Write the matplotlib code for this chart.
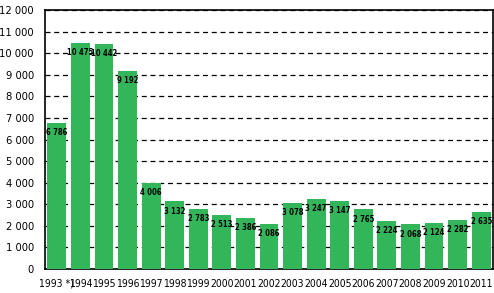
import matplotlib
matplotlib.use("Agg")
import matplotlib.pyplot as plt
from matplotlib.ticker import FuncFormatter

years = ["1993 *)", "1994", "1995", "1996", "1997", "1998", "1999", "2000", "2001", "2002",
         "2003", "2004", "2005", "2006", "2007", "2008", "2009", "2010", "2011"]
values = [6786, 10475, 10442, 9192, 4006, 3132, 2783, 2513, 2386, 2086,
          3078, 3247, 3147, 2765, 2224, 2068, 2124, 2282, 2635]

fig = plt.figure(figsize=(4.94, 2.93), dpi=100)
ax = fig.add_axes([45/494, 24/293, 448/494, 259/293])

x = list(range(len(years)))
ax.bar(x, values, width=0.8, color="#33b65a", zorder=3)
ax.set_xlim(-0.5, len(years) - 0.5)
ax.set_ylim(0, 12000)
ax.set_yticks(range(0, 12001, 1000))
ax.yaxis.set_major_formatter(FuncFormatter(lambda v, p: f"{int(v):,}".replace(",", " ")))
ax.yaxis.grid(True, linestyle=(0, (4, 3)), color="black", linewidth=0.9, zorder=1)
ax.set_xticks(x)
ax.set_xticklabels(years)
ax.tick_params(axis="y", length=0, pad=8)
ax.tick_params(axis="x", length=0, pad=7)
for s in ax.spines.values():
    s.set_color("black")
    s.set_linewidth(1.2)

for lab in ax.get_yticklabels():
    lab.set_fontstretch("condensed")
    lab.set_fontsize(8)
for lab in ax.get_xticklabels():
    lab.set_fontstretch("condensed")
    lab.set_fontsize(7.5)

for xi, v in zip(x, values):
    ax.annotate(f"{v:,}".replace(",", " "), (xi, v), xytext=(0, -7), textcoords="offset points",
                ha="center", va="center", fontsize=5.5, fontweight="bold",
                fontstretch="condensed", zorder=4)

fig.savefig("out.png", dpi=100)
